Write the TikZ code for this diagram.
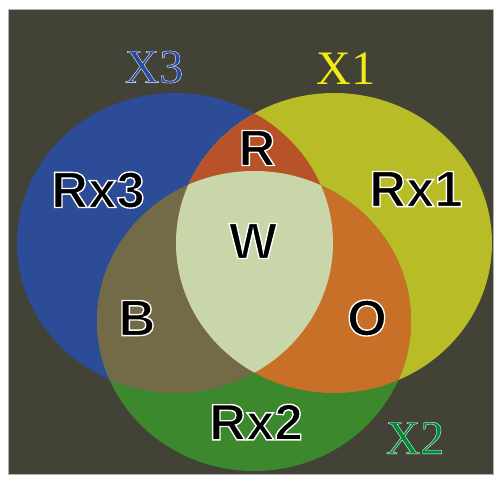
\documentclass[tikz,border=0pt]{standalone}
\usepackage{fontspec}
\newfontfamily\lsans{Liberation Sans}
\newfontfamily\lserif{Liberation Serif}
\definecolor{bgdark}{RGB}{66,66,55}
\definecolor{cblue}{RGB}{44,76,152}
\definecolor{cyellow}{RGB}{184,188,38}
\definecolor{cgreen}{RGB}{60,136,44}
\definecolor{cred}{RGB}{184,82,40}
\definecolor{colive}{RGB}{115,106,72}
\definecolor{corange}{RGB}{200,112,40}
\definecolor{cwhite}{RGB}{200,214,170}
\definecolor{lblue}{RGB}{40,75,160}
\definecolor{lyellow}{RGB}{240,235,20}
\definecolor{lgreen}{RGB}{0,140,55}
\newcommand\outlined[2]{\special{pdf:literal direct 2 Tr #1 w 1 1 1 RG}#2}
\tikzset{
  region/.style={text=black,inner sep=0pt,font=\lsans\bfseries\fontsize{51}{53}\selectfont},
  setlabel/.style={inner sep=0pt,font=\lserif\fontsize{48}{50}\selectfont}
}
\begin{document}
\begin{tikzpicture}[x=1pt,y=-1pt]
\useasboundingbox (0,0) rectangle (496,477);
\fill[white] (0,0) rectangle (496,477);
\fill[bgdark] (8,9) rectangle (493,474);
\draw[gray!60,line width=0.8pt] (8,9) rectangle (493,474);
% base ellipses
\fill[cblue] (175,243) ellipse [x radius=158, y radius=150];
\fill[cyellow] (334,243) ellipse [x radius=158, y radius=150];
\fill[cgreen] (254,321) ellipse [x radius=157, y radius=150];
% pairwise overlaps
\begin{scope}
  \clip (175,243) ellipse [x radius=158, y radius=150];
  \fill[cred] (334,243) ellipse [x radius=158, y radius=150];
  \fill[colive] (254,321) ellipse [x radius=157, y radius=150];
\end{scope}
\begin{scope}
  \clip (334,243) ellipse [x radius=158, y radius=150];
  \fill[corange] (254,321) ellipse [x radius=157, y radius=150];
\end{scope}
\begin{scope}
  \clip (175,243) ellipse [x radius=158, y radius=150];
  \clip (334,243) ellipse [x radius=158, y radius=150];
  \fill[cwhite] (254,321) ellipse [x radius=157, y radius=150];
\end{scope}
% region labels
\node[region] (rx3) at (98,190) {\outlined{1.4}{Rx3}};
\node[region] (r) at (257,148) {\outlined{1.4}{R}};
\node[region] (rx1) at (416,189) {\outlined{1.4}{Rx1}};
\node[region] (w) at (253,241) {\outlined{1.4}{W}};
\node[region] (b) at (137,318) {\outlined{1.4}{B}};
\node[region] (o) at (367,318) {\outlined{1.4}{O}};
\node[region] (rx2) at (256,422) {\outlined{1.4}{Rx2}};
% set labels
\node[setlabel,text=lblue] (x3) at (154,67) {\outlined{0.35}{X3}};
\node[setlabel,text=lyellow] (x1) at (346,69) {X1};
\node[setlabel,text=lgreen] (x2) at (415,438) {\outlined{0.35}{X2}};
\end{tikzpicture}
\end{document}
